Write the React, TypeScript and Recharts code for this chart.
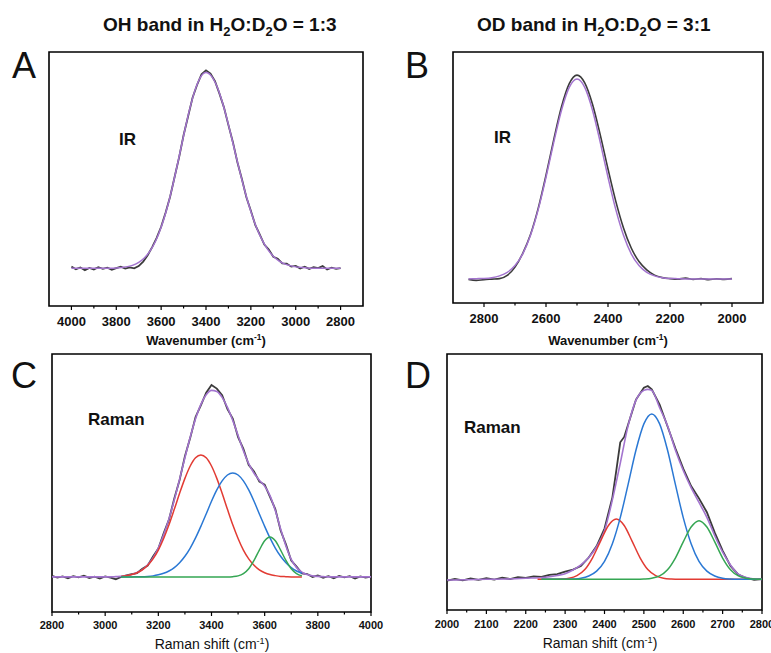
import React from 'react';
import { LineChart, Line, XAxis, YAxis, ReferenceArea } from 'recharts';

const FONT = '"Liberation Sans", Arial, Helvetica, sans-serif';
const RAW = '#3b3b3b';
const FIT = '#a374cf';
const RED = '#e23b33';
const BLUE = '#2a78d4';
const GREEN = '#35a653';

// A: OH band IR (x in cm-1, y normalised)
const aRawX = [4000, 3980, 3960, 3940, 3920, 3900, 3880, 3860, 3840, 3820, 3800, 3780, 3760, 3740, 3720, 3700, 3680, 3660, 3640, 3620, 3600, 3580, 3560, 3540, 3520, 3500, 3480, 3460, 3440, 3420, 3400, 3380, 3360, 3340, 3320, 3300, 3280, 3260, 3240, 3220, 3200, 3180, 3160, 3140, 3120, 3100, 3080, 3060, 3040, 3020, 3000, 2980, 2960, 2940, 2920, 2900, 2880, 2860, 2840, 2820, 2800];
const aRawY = [0.155, 0.145, 0.152, 0.141, 0.150, 0.144, 0.153, 0.146, 0.151, 0.143, 0.149, 0.155, 0.147, 0.152, 0.148, 0.157, 0.175, 0.200, 0.232, 0.268, 0.312, 0.368, 0.430, 0.508, 0.585, 0.672, 0.746, 0.820, 0.870, 0.912, 0.928, 0.915, 0.885, 0.836, 0.782, 0.712, 0.645, 0.566, 0.500, 0.428, 0.375, 0.318, 0.281, 0.242, 0.222, 0.194, 0.186, 0.168, 0.167, 0.155, 0.158, 0.148, 0.155, 0.146, 0.153, 0.149, 0.157, 0.144, 0.151, 0.146, 0.149];
const aFitX = [4000, 3975, 3950, 3925, 3900, 3875, 3850, 3825, 3800, 3775, 3750, 3725, 3700, 3675, 3650, 3625, 3600, 3575, 3550, 3525, 3500, 3475, 3450, 3425, 3400, 3375, 3350, 3325, 3300, 3275, 3250, 3225, 3200, 3175, 3150, 3125, 3100, 3075, 3050, 3025, 3000, 2975, 2950, 2925, 2900, 2875, 2850, 2825, 2800];
const aFitY = [0.149, 0.149, 0.149, 0.149, 0.149, 0.149, 0.149, 0.149, 0.150, 0.152, 0.155, 0.161, 0.172, 0.189, 0.216, 0.255, 0.310, 0.381, 0.468, 0.567, 0.670, 0.767, 0.847, 0.900, 0.919, 0.904, 0.862, 0.796, 0.714, 0.623, 0.532, 0.447, 0.372, 0.309, 0.260, 0.223, 0.196, 0.178, 0.166, 0.159, 0.154, 0.152, 0.150, 0.149, 0.149, 0.149, 0.149, 0.149, 0.149];

// B: OD band IR
const bX = [2850, 2825, 2800, 2775, 2750, 2725, 2700, 2675, 2650, 2625, 2600, 2575, 2550, 2525, 2500, 2475, 2450, 2425, 2400, 2375, 2350, 2325, 2300, 2275, 2250, 2225, 2200, 2175, 2150, 2125, 2100, 2075, 2050, 2025, 2000];
const bRawY = [0.094, 0.090, 0.093, 0.095, 0.097, 0.110, 0.143, 0.198, 0.273, 0.378, 0.509, 0.651, 0.782, 0.874, 0.908, 0.877, 0.792, 0.670, 0.534, 0.406, 0.299, 0.219, 0.165, 0.132, 0.111, 0.101, 0.097, 0.095, 0.099, 0.094, 0.097, 0.093, 0.096, 0.094, 0.097];
const bFitY = [0.096, 0.097, 0.098, 0.101, 0.108, 0.122, 0.149, 0.196, 0.270, 0.373, 0.501, 0.640, 0.768, 0.859, 0.892, 0.859, 0.768, 0.640, 0.501, 0.373, 0.270, 0.196, 0.149, 0.122, 0.108, 0.101, 0.098, 0.097, 0.096, 0.096, 0.096, 0.096, 0.096, 0.096, 0.096];

// C: OH band Raman
const cX = [2800, 2820, 2840, 2860, 2880, 2900, 2920, 2940, 2960, 2980, 3000, 3020, 3040, 3060, 3080, 3100, 3120, 3140, 3160, 3180, 3200, 3220, 3240, 3260, 3280, 3300, 3320, 3340, 3360, 3380, 3400, 3420, 3440, 3460, 3480, 3500, 3520, 3540, 3560, 3580, 3600, 3620, 3640, 3660, 3680, 3700, 3720, 3740, 3760, 3780, 3800, 3820, 3840, 3860, 3880, 3900, 3920, 3940, 3960, 3980, 4000];
const cRawY = [0.140, 0.133, 0.138, 0.131, 0.139, 0.134, 0.141, 0.132, 0.137, 0.130, 0.138, 0.133, 0.127, 0.136, 0.142, 0.147, 0.151, 0.168, 0.180, 0.215, 0.246, 0.305, 0.358, 0.440, 0.512, 0.604, 0.675, 0.756, 0.801, 0.850, 0.880, 0.866, 0.840, 0.786, 0.750, 0.678, 0.632, 0.570, 0.545, 0.505, 0.494, 0.446, 0.399, 0.316, 0.262, 0.199, 0.176, 0.150, 0.147, 0.136, 0.142, 0.133, 0.139, 0.131, 0.140, 0.134, 0.139, 0.130, 0.138, 0.133, 0.137];
const cFitY = [0.136, 0.136, 0.136, 0.136, 0.136, 0.136, 0.136, 0.136, 0.136, 0.136, 0.136, 0.136, 0.137, 0.138, 0.141, 0.145, 0.153, 0.164, 0.183, 0.210, 0.248, 0.299, 0.361, 0.434, 0.515, 0.598, 0.678, 0.749, 0.805, 0.842, 0.859, 0.855, 0.832, 0.793, 0.742, 0.684, 0.625, 0.575, 0.538, 0.511, 0.488, 0.451, 0.393, 0.322, 0.256, 0.204, 0.172, 0.154, 0.145, 0.140, 0.138, 0.137, 0.136, 0.136, 0.136, 0.136, 0.136, 0.136, 0.136, 0.136, 0.136];
const cPeakX = [3060, 3080, 3100, 3120, 3140, 3160, 3180, 3200, 3220, 3240, 3260, 3280, 3300, 3320, 3340, 3360, 3380, 3400, 3420, 3440, 3460, 3480, 3500, 3520, 3540, 3560, 3580, 3600, 3620, 3640, 3660, 3680, 3700, 3720, 3740];
const cRedY = [0.138, 0.141, 0.145, 0.152, 0.163, 0.181, 0.206, 0.240, 0.285, 0.338, 0.398, 0.460, 0.518, 0.566, 0.598, 0.609, 0.598, 0.566, 0.518, 0.460, 0.398, 0.338, 0.285, 0.240, 0.206, 0.181, 0.163, 0.152, 0.145, 0.141, 0.138, 0.137, 0.136, 0.136, 0.136];
const cBlueY = [0.136, 0.136, 0.136, 0.137, 0.137, 0.138, 0.140, 0.144, 0.150, 0.159, 0.172, 0.191, 0.216, 0.248, 0.287, 0.332, 0.380, 0.429, 0.473, 0.508, 0.531, 0.539, 0.531, 0.508, 0.473, 0.429, 0.380, 0.332, 0.287, 0.248, 0.216, 0.191, 0.172, 0.159, 0.150];
const cGreenY = [0.136, 0.136, 0.136, 0.136, 0.136, 0.136, 0.136, 0.136, 0.136, 0.136, 0.136, 0.136, 0.136, 0.136, 0.136, 0.136, 0.136, 0.136, 0.136, 0.136, 0.136, 0.137, 0.140, 0.149, 0.168, 0.200, 0.240, 0.276, 0.291, 0.276, 0.240, 0.200, 0.168, 0.149, 0.140];

// D: OD band Raman
const dRawX = [2000, 2020, 2040, 2060, 2080, 2100, 2120, 2140, 2160, 2180, 2200, 2220, 2240, 2260, 2280, 2300, 2320, 2340, 2360, 2380, 2400, 2420, 2430, 2440, 2450, 2460, 2480, 2500, 2510, 2520, 2540, 2560, 2580, 2600, 2620, 2640, 2660, 2680, 2700, 2720, 2740, 2760, 2780, 2800];
const dRawY = [0.115, 0.121, 0.116, 0.123, 0.118, 0.124, 0.119, 0.126, 0.121, 0.128, 0.125, 0.131, 0.129, 0.137, 0.140, 0.150, 0.158, 0.172, 0.205, 0.250, 0.318, 0.440, 0.545, 0.655, 0.676, 0.725, 0.822, 0.868, 0.875, 0.862, 0.802, 0.718, 0.632, 0.552, 0.484, 0.436, 0.382, 0.302, 0.232, 0.172, 0.138, 0.125, 0.118, 0.121];
const dFitX = [2000, 2050, 2100, 2150, 2200, 2250, 2280, 2300, 2320, 2340, 2360, 2380, 2400, 2420, 2440, 2460, 2480, 2500, 2510, 2520, 2540, 2560, 2580, 2600, 2620, 2640, 2660, 2680, 2700, 2720, 2740, 2760, 2780, 2800];
const dFitY = [0.117, 0.118, 0.120, 0.121, 0.124, 0.128, 0.135, 0.142, 0.156, 0.176, 0.205, 0.247, 0.310, 0.430, 0.573, 0.720, 0.820, 0.858, 0.862, 0.858, 0.790, 0.720, 0.625, 0.545, 0.478, 0.420, 0.362, 0.290, 0.226, 0.176, 0.140, 0.127, 0.121, 0.119];
const dPeakX = [2240, 2260, 2280, 2300, 2320, 2340, 2360, 2380, 2400, 2420, 2440, 2460, 2480, 2500, 2520, 2540, 2560, 2580, 2600, 2620, 2640, 2660, 2680, 2700, 2720, 2740, 2760, 2780, 2800];
const dBlueY = [0.120, 0.120, 0.120, 0.120, 0.121, 0.124, 0.133, 0.152, 0.190, 0.259, 0.361, 0.491, 0.625, 0.727, 0.766, 0.727, 0.625, 0.491, 0.361, 0.259, 0.190, 0.152, 0.133, 0.124, 0.121, 0.120, 0.120, 0.120, 0.120];
const dGreenY = [0.120, 0.120, 0.120, 0.120, 0.120, 0.120, 0.120, 0.120, 0.120, 0.120, 0.120, 0.120, 0.120, 0.121, 0.124, 0.133, 0.157, 0.203, 0.266, 0.324, 0.349, 0.324, 0.266, 0.203, 0.157, 0.133, 0.124, 0.121, 0.120];
const dRedX = [2230, 2250, 2270, 2290, 2310, 2330, 2350, 2370, 2390, 2410, 2430, 2450, 2470, 2490, 2510, 2530, 2550, 2570, 2590, 2610, 2630, 2650, 2670, 2690, 2710, 2730, 2750, 2770, 2790, 2800];
const dRedY = [0.120, 0.120, 0.120, 0.121, 0.124, 0.134, 0.158, 0.205, 0.269, 0.330, 0.355, 0.330, 0.269, 0.205, 0.158, 0.134, 0.124, 0.121, 0.120, 0.120, 0.120, 0.120, 0.120, 0.120, 0.120, 0.120, 0.120, 0.120, 0.120, 0.120];

// axis ticks
const aMajor = [4000, 3800, 3600, 3400, 3200, 3000, 2800];
const aMinor = [3900, 3700, 3500, 3300, 3100, 2900];
const bMajor = [2800, 2600, 2400, 2200, 2000];
const bMinor = [2700, 2500, 2300, 2100];
const cMajor = [2800, 3000, 3200, 3400, 3600, 3800, 4000];
const cMinor = [2900, 3100, 3300, 3500, 3700, 3900];
const dMajor = [2000, 2100, 2200, 2300, 2400, 2500, 2600, 2700, 2800];
const dMinor = [2050, 2150, 2250, 2350, 2450, 2550, 2650, 2750];

const zip = (xs: number[], ys: number[]) => xs.map((x, i) => ({ x, y: ys[i] }));

type Curve = { xs: number[]; ys: number[]; color: string; width: number; curve: 'linear' | 'monotone' };

type PanelProps = {
  frame: [number, number, number, number];
  domain: [number, number];
  reversed?: boolean;
  major: number[];
  minor: number[];
  fontSize: number;
  labelGap: number;
  curves: Curve[];
};

const PAD = 20;
const AXIS_H = 30;

const AxisTick = ({ x, y, payload, major, fontSize, labelGap }: any) => {
  const isMajor = major.includes(payload.value);
  return (
    <g>
      <line x1={x} x2={x} y1={y} y2={y + (isMajor ? 4 : 2.5)} stroke="#000" strokeWidth={1.2} />
      {isMajor && (
        <text x={x} y={y + labelGap} textAnchor="middle" fontFamily={FONT} fontWeight="bold" fontSize={fontSize} fill="#111">
          {payload.value}
        </text>
      )}
    </g>
  );
};

function Panel({ frame, domain, reversed, major, minor, fontSize, labelGap, curves }: PanelProps) {
  const [l, t, r, b] = frame;
  const width = r - l + PAD * 2;
  const height = b - t + PAD + AXIS_H;
  const ticks = [...major, ...minor].sort((p, q) => p - q);
  return (
    <div style={{ position: 'absolute', left: l - PAD, top: t - PAD }}>
      <LineChart width={width} height={height} margin={{ top: PAD, right: PAD, bottom: 0, left: PAD }}>
        <XAxis
          xAxisId="b"
          dataKey="x"
          type="number"
          domain={domain}
          reversed={reversed}
          allowDataOverflow
          ticks={ticks}
          interval={0}
          height={AXIS_H}
          tickSize={0}
          tickMargin={0}
          tickLine={false}
          axisLine={false}
          tick={(p: any) => <AxisTick {...p} major={major} fontSize={fontSize} labelGap={labelGap} />}
        />
        <YAxis yAxisId="l" type="number" domain={[0, 1]} allowDataOverflow hide />
        {curves.map((c, i) => (
          <Line
            key={i}
            xAxisId="b"
            yAxisId="l"
            data={zip(c.xs, c.ys)}
            dataKey="y"
            type={c.curve}
            stroke={c.color}
            strokeWidth={c.width}
            dot={false}
            activeDot={false}
            isAnimationActive={false}
          />
        ))}
        <ReferenceArea
          xAxisId="b"
          yAxisId="l"
          x1={domain[0]}
          x2={domain[1]}
          y1={0}
          y2={1}
          fill="none"
          fillOpacity={0}
          stroke="#000"
          strokeWidth={1.6}
          ifOverflow="visible"
        />
      </LineChart>
    </div>
  );
}

const Title = ({ x, band, ratio }: { x: number; band: string; ratio: string }) => (
  <text x={x} y={31} fontSize={19} fontWeight="bold" fill="#111">
    {band} band in H<tspan dy={5} fontSize={13}>2</tspan>
    <tspan dy={-5}>O:D</tspan>
    <tspan dy={5} fontSize={13}>2</tspan>
    <tspan dy={-5}>O = {ratio}</tspan>
  </text>
);

const AxisTitle = ({ x, y, label, bold, size }: { x: number; y: number; label: string; bold?: boolean; size: number }) => (
  <text x={x} y={y} textAnchor="middle" fontSize={size} fontWeight={bold ? 'bold' : 'normal'} fill="#111">
    {label} (cm<tspan dy={-5} fontSize={size * 0.65}>-1</tspan>
    <tspan dy={5}>)</tspan>
  </text>
);

export default function App() {
  return (
    <div style={{ position: 'absolute', left: 0, top: 0, width: 771, height: 653, background: '#fff', overflow: 'hidden' }}>
      <Panel
        frame={[49, 52, 363, 306]}
        domain={[2700, 4100]}
        reversed
        major={aMajor}
        minor={aMinor}
        fontSize={13}
        labelGap={20}
        curves={[
          { xs: aRawX, ys: aRawY, color: RAW, width: 1.8, curve: 'linear' },
          { xs: aFitX, ys: aFitY, color: FIT, width: 1.5, curve: 'monotone' },
        ]}
      />
      <Panel
        frame={[453, 52, 763, 303]}
        domain={[1900, 2900]}
        reversed
        major={bMajor}
        minor={bMinor}
        fontSize={13}
        labelGap={20}
        curves={[
          { xs: bX, ys: bRawY, color: RAW, width: 1.6, curve: 'monotone' },
          { xs: bX, ys: bFitY, color: FIT, width: 1.5, curve: 'monotone' },
        ]}
      />
      <Panel
        frame={[52, 354, 371, 612]}
        domain={[2800, 4000]}
        major={cMajor}
        minor={cMinor}
        fontSize={11}
        labelGap={17}
        curves={[
          { xs: cX, ys: cRawY, color: RAW, width: 1.8, curve: 'linear' },
          { xs: cX, ys: cFitY, color: FIT, width: 1.6, curve: 'monotone' },
          { xs: cPeakX, ys: cRedY, color: RED, width: 1.5, curve: 'monotone' },
          { xs: cPeakX, ys: cBlueY, color: BLUE, width: 1.5, curve: 'monotone' },
          { xs: cPeakX, ys: cGreenY, color: GREEN, width: 1.5, curve: 'monotone' },
        ]}
      />
      <Panel
        frame={[447, 354, 762, 610]}
        domain={[2000, 2800]}
        major={dMajor}
        minor={dMinor}
        fontSize={11}
        labelGap={18}
        curves={[
          { xs: dRawX, ys: dRawY, color: RAW, width: 1.8, curve: 'linear' },
          { xs: dFitX, ys: dFitY, color: FIT, width: 1.6, curve: 'monotone' },
          { xs: dRedX, ys: dRedY, color: RED, width: 1.5, curve: 'monotone' },
          { xs: dPeakX, ys: dBlueY, color: BLUE, width: 1.5, curve: 'monotone' },
          { xs: dPeakX, ys: dGreenY, color: GREEN, width: 1.5, curve: 'monotone' },
        ]}
      />
      <svg width={771} height={653} style={{ position: 'absolute', left: 0, top: 0, pointerEvents: 'none' }} fontFamily={FONT}>
        <Title x={103} band="OH" ratio="1:3" />
        <Title x={477} band="OD" ratio="3:1" />
        <text x={12} y={78} fontSize={36} fill="#111">A</text>
        <text x={405} y={78} fontSize={36} fill="#111">B</text>
        <text x={11} y={388} fontSize={36} fill="#111">C</text>
        <text x={405} y={388} fontSize={36} fill="#111">D</text>
        <text x={119} y={145} fontSize={17} fontWeight="bold" fill="#111">IR</text>
        <text x={494} y={143} fontSize={17} fontWeight="bold" fill="#111">IR</text>
        <text x={88} y={425} fontSize={17} fontWeight="bold" fill="#111">Raman</text>
        <text x={464} y={433} fontSize={17} fontWeight="bold" fill="#111">Raman</text>
        <AxisTitle x={206} y={345} label="Wavenumber" bold size={13} />
        <AxisTitle x={608} y={345} label="Wavenumber" bold size={13} />
        <AxisTitle x={212} y={649} label="Raman shift" size={14} />
        <AxisTitle x={600} y={648} label="Raman shift" size={14} />
      </svg>
    </div>
  );
}
